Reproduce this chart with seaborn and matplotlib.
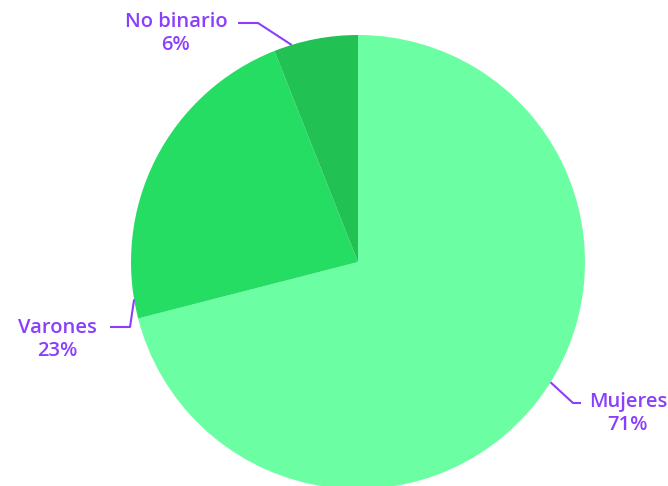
import matplotlib
matplotlib.use("Agg")
import matplotlib.pyplot as plt
import seaborn as sns
import numpy as np

# data
labels = ["Mujeres", "Varones", "No binario"]
values = [71, 23, 6]
colors = ["#6cfea2", "#24dd62", "#22c153"]

sns.set_theme(style="white")
plt.rcParams['font.family'] = ['Open Sans', 'DejaVu Sans']

W, H = 668, 486
cx, cy, R = 358, 262, 227
fig = plt.figure(figsize=(W / 100, H / 100), dpi=100)
ax = fig.add_axes([(cx - R) / W, (H - cy - R) / H, 2 * R / W, 2 * R / H])

ax.pie(values, colors=colors, startangle=90, counterclock=False,
       wedgeprops=dict(linewidth=0))
ax.set_xlim(-1, 1)
ax.set_ylim(-1, 1)
ax.set_axis_off()

def px(x, y):
    return ((x - cx) / R, (cy - y) / R)

purple = "#8a3ffc"
# leader lines: anchor on pie edge (angle), elbow, end; text position (pixels)
leaders = {
    "Mujeres": dict(angle=-32, elbow=(573, 403), end=(581, 403), text=(628, 414)),
    "Varones": dict(angle=189.5, elbow=(130, 327), end=(110, 327), text=(57, 339)),
    "No binario": dict(angle=107, elbow=(258, 23), end=(238, 23), text=(176, 33)),
}
for lab, val in zip(labels, values):
    L = leaders[lab]
    a = np.deg2rad(L["angle"])
    p0 = (np.cos(a), np.sin(a))
    p1 = px(*L["elbow"])
    p2 = px(*L["end"])
    ax.plot([p0[0], p1[0], p2[0]], [p0[1], p1[1], p2[1]], color=purple,
            lw=1.5, clip_on=False, solid_capstyle="butt")
    tx, ty = px(*L["text"])
    ax.text(tx, ty, f"{lab}\n{val}%", ha="center", va="center", color=purple,
            fontsize=14.5, fontweight="semibold", linespacing=1.2,
            clip_on=False)

fig.savefig("out.png", dpi=100)
